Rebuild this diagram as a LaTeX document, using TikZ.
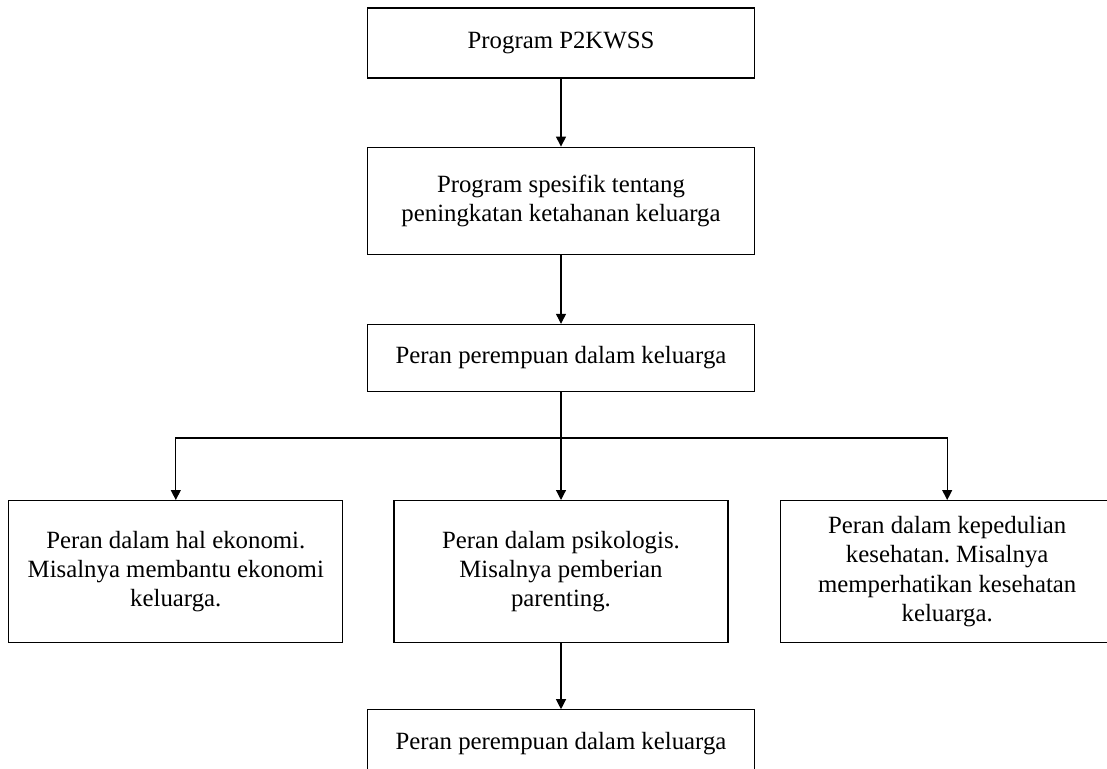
\documentclass[tikz,border=0pt]{standalone}
\usepackage{fontspec}
\setmainfont{Liberation Serif}
\usepackage{tikz}
\usetikzlibrary{positioning,arrows.meta}
\frenchspacing

\begin{document}
\begin{tikzpicture}[
    x=0.5pt, y=-0.5pt,
    box/.style={rectangle, draw, line width=0.6pt, align=center, inner sep=2pt,
        font=\fontsize{12.4}{14.6}\selectfont},
    wide/.style={box, minimum width=193.5pt},
    peran/.style={box, minimum width=167pt, minimum height=71pt},
    link/.style={-{Triangle[length=5pt,width=5pt]}, line width=0.6pt}
]
    \useasboundingbox (0,0) rectangle (1107,769);

    \node[wide, minimum height=35pt] (program) at (561,43) {Program P2KWSS};
    \node[wide, minimum height=53.5pt] (spesifik) [below=34pt of program] {Program spesifik tentang\\ peningkatan ketahanan keluarga};
    \node[wide, minimum height=33.5pt] (keluarga) [below=34.5pt of spesifik] {Peran perempuan dalam keluarga};
    \node[peran] (psikologis) [below=54pt of keluarga] {Peran dalam psikologis.\\ Misalnya pemberian\\ parenting.};
    \node[peran] (ekonomi) [left=25pt of psikologis] {Peran dalam hal ekonomi.\\ Misalnya membantu ekonomi\\ keluarga.};
    \node[peran] (kesehatan) [right=25.5pt of psikologis] {Peran dalam kepedulian\\ kesehatan. Misalnya\\ memperhatikan kesehatan\\ keluarga.};
    \node[wide, minimum height=33.5pt] (hasil) [below=33pt of psikologis] {Peran perempuan dalam keluarga};

    \coordinate[below=23pt of keluarga] (cabang);

    \draw[link] (program) -- (spesifik);
    \draw[link] (spesifik) -- (keluarga);
    \draw[line width=0.6pt] (keluarga) -- (cabang);
    \draw[link] (cabang) -| (ekonomi);
    \draw[link] (cabang) -- (psikologis);
    \draw[link] (cabang) -| (kesehatan);
    \draw[link] (psikologis) -- (hasil);
\end{tikzpicture}
\end{document}
